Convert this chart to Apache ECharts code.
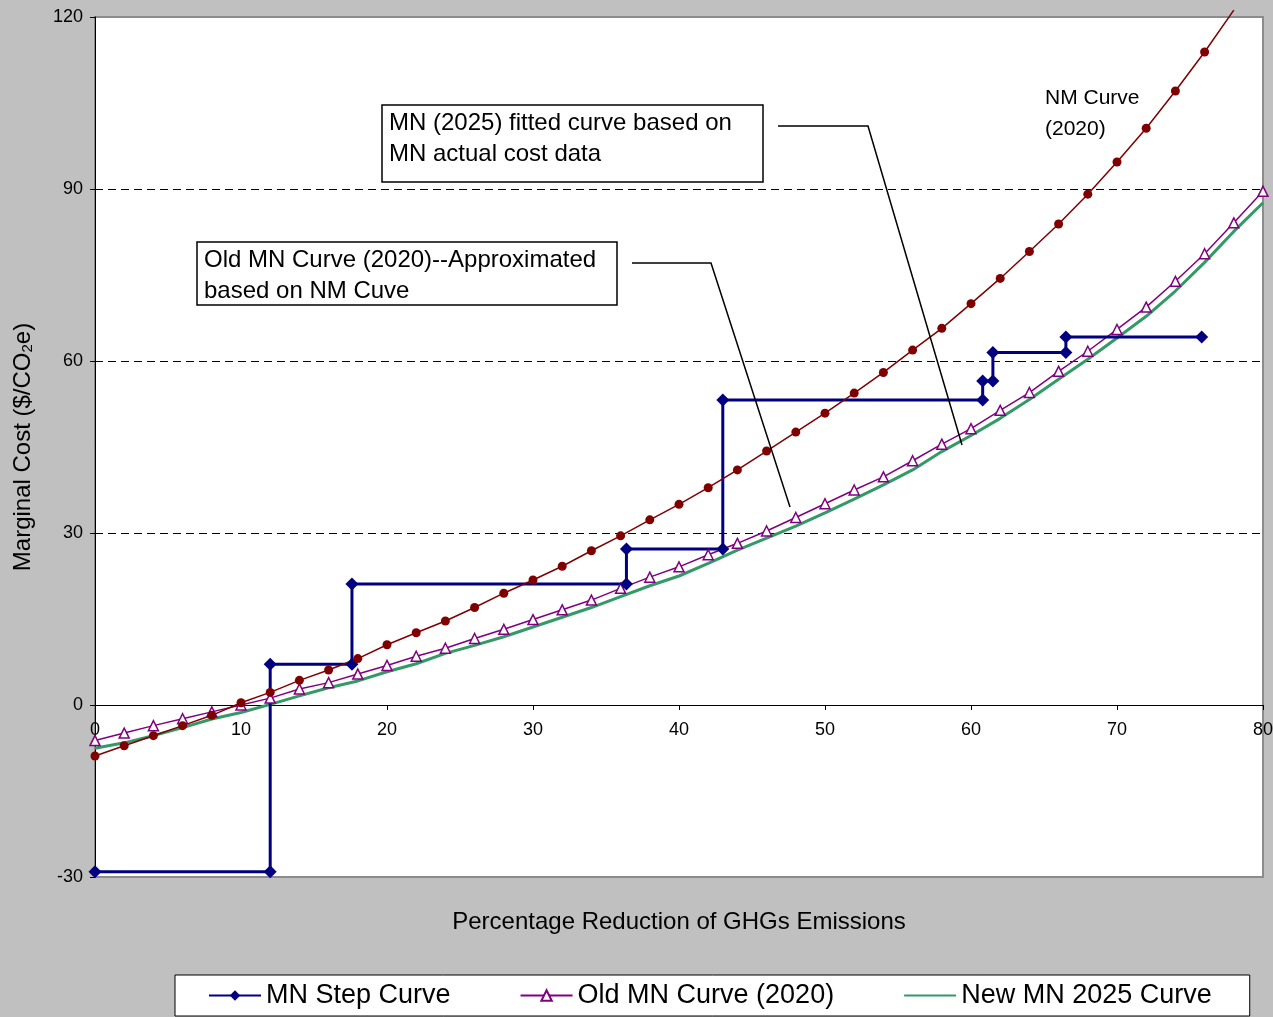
<!DOCTYPE html>
<html>
<head>
<meta charset="utf-8">
<script src="https://cdn.jsdelivr.net/npm/echarts@6/dist/echarts.min.js"></script>
<style>
html,body{margin:0;padding:0;background:#c0c0c0;}
#chart{width:1273px;height:1017px;}
</style>
</head>
<body>
<div id="chart"></div>
<script>
// ---- data ----
const pctX = [0,2,4,6,8,10,12,14,16,18,20,22,24,26,28,30,32,34,36,38,40,42,44,46,48,50,52,54,56,58,60,62,64,66,68,70,72,74,76,78,80];
// NM Curve (2020), points 0..78
const nmCurve = [-8.9,-7.1,-5.35,-3.6,-1.8,0.4,2.2,4.3,6.1,8.1,10.5,12.6,14.65,17.0,19.5,21.8,24.2,26.9,29.5,32.3,35.0,37.9,41.0,44.3,47.6,50.9,54.4,58.0,61.9,65.7,70.0,74.4,79.1,83.9,89.1,94.7,100.6,107.1,113.9,121.2];
// Old MN Curve (2020), points 0..80
const oldMN = [-6.2,-4.9,-3.6,-2.4,-1.2,0.0,1.2,2.8,3.9,5.4,6.9,8.5,9.9,11.6,13.2,14.9,16.6,18.3,20.35,22.3,24.1,26.2,28.2,30.35,32.7,35.1,37.5,39.8,42.6,45.5,48.2,51.4,54.5,58.2,61.7,65.5,69.4,73.9,78.7,84.1,89.6];
// New MN 2025 Curve, points 0..80
const newMN = [-7.55,-6.6,-5.35,-3.95,-2.45,-1.3,0.1,1.6,3.0,4.2,5.8,7.2,9.0,10.4,11.9,13.6,15.3,17.0,18.9,20.8,22.5,24.7,27.0,29.1,31.2,33.5,35.9,38.4,41.0,44.2,47.0,50.0,53.3,56.8,60.3,64.0,67.8,72.2,77.2,82.6,87.6];
// MN Step Curve
const stepX = [0,12,12,17.6,17.6,36.4,36.4,43,43,60.8,60.8,61.5,61.5,66.5,66.5,75.8];
const stepY = [-29.1,-29.1,7.1,7.1,21.1,21.1,27.2,27.2,53.2,53.2,56.5,56.5,61.5,61.5,64.2,64.2];
const yTicks = [-30,0,30,60,90,120];
const xTicks = [0,10,20,30,40,50,60,70,80];

const FONT = 'Liberation Sans, Arial, sans-serif';
const W = 1273, H = 1017;
const G = {left: 95, top: 17, right: 10, bottom: 140};
const gridH = H - G.top - G.bottom;
const yMin = yTicks[0], yMax = yTicks[yTicks.length-1];
// x axis sits on y = 0 (labels follow it)
const xAxisOffset = -((0 - yMin) / (yMax - yMin)) * gridH;

const chart = echarts.init(document.getElementById('chart'), null, {renderer:'canvas'});

const nmData = nmCurve.map((v,i) => {
  const p = [pctX[i], v];
  return v > yMax ? {value:p, symbol:'none'} : p;
});

const option = {
  animation: false,
  backgroundColor: '#c0c0c0',
  textStyle: {fontFamily: FONT},
  grid: {
    left: G.left, top: G.top, right: G.right, bottom: G.bottom,
    containLabel: false, outerBoundsMode: 'none',
    show: true, backgroundColor: '#ffffff',
    borderColor: '#8c8c8c', borderWidth: 2
  },
  legend: {
    data: ['MN Step Curve','Old MN Curve (2020)',{name:'New MN 2025 Curve', itemStyle:{opacity:0}}],
    left: 175, top: 975,
    padding: [7, 38, 7, 33],
    itemGap: 69, itemWidth: 52, itemHeight: 13,
    backgroundColor: '#ffffff', borderColor: '#000000', borderWidth: 1,
    textStyle: {fontSize: 27, color: '#000', fontFamily: FONT}
  },
  xAxis: {
    type: 'value', min: xTicks[0], max: xTicks[xTicks.length-1], interval: 10,
    position: 'bottom', offset: xAxisOffset,
    axisLine: {onZero: false, lineStyle: {color: '#000', width: 1}},
    axisTick: {show: true, inside: false, length: 5, lineStyle: {color: '#000'}},
    axisLabel: {fontSize: 18, color: '#000', margin: 16, fontFamily: FONT},
    splitLine: {show: false},
    name: 'Percentage Reduction of GHGs Emissions',
    nameLocation: 'middle', nameGap: 205,
    nameTextStyle: {fontSize: 24, color: '#000', fontFamily: FONT}
  },
  yAxis: {
    type: 'value', min: yMin, max: yMax, interval: 30,
    axisLine: {show: true, lineStyle: {color: '#000', width: 1}},
    axisTick: {show: true, length: 5, lineStyle: {color: '#000'}},
    axisLabel: {fontSize: 18, color: '#000', margin: 12, fontFamily: FONT},
    splitLine: {show: true, showMinLine: false, showMaxLine: false,
      lineStyle: {color: '#000', width: 1, type: [8, 5]}},
    name: 'Marginal Cost ($/CO{sub|2}e)',
    nameLocation: 'middle', nameGap: 60,
    nameTextStyle: {fontSize: 24, color: '#000', fontFamily: FONT,
      rich: {sub: {fontSize: 15, color: '#000', fontFamily: FONT, verticalAlign: 'bottom', padding: [8,0,0,0]}}}
  },
  series: [
    {
      name: 'New MN 2025 Curve', type: 'line',
      data: newMN.map((v,i) => [pctX[i], v]),
      symbol: 'none',
      lineStyle: {color: '#339966', width: 3},
      itemStyle: {color: '#339966'}
    },
    {
      name: 'Old MN Curve (2020)', type: 'line',
      data: oldMN.map((v,i) => [pctX[i], v]),
      symbol: 'triangle', symbolSize: 10,
      lineStyle: {color: '#800080', width: 1.5},
      itemStyle: {color: '#ffffff', borderColor: '#800080', borderWidth: 1.5}
    },
    {
      name: 'MN Step Curve', type: 'line',
      data: stepX.map((x,i) => [x, stepY[i]]),
      symbol: 'diamond', symbolSize: 13,
      lineStyle: {color: '#000080', width: 3},
      itemStyle: {color: '#000080'}
    },
    {
      name: 'NM Curve (2020)', type: 'line',
      data: nmData, clip: false,
      symbol: 'circle', symbolSize: 9,
      lineStyle: {color: '#800000', width: 1.5},
      itemStyle: {color: '#800000'}
    }
  ],
  graphic: [
    {type: 'rect', shape: {x: 382, y: 105, width: 381, height: 77},
      style: {fill: '#ffffff', stroke: '#000', lineWidth: 1.5}, z: 10},
    {type: 'text', x: 389, y: 108, z: 11,
      style: {text: 'MN (2025) fitted curve based on\nMN actual cost data', font: '24px ' + FONT,
        fill: '#000', lineHeight: 31, verticalAlign: 'top', textAlign: 'left'}},
    {type: 'polyline', shape: {points: [[778,126],[868,126],[962,445]]},
      style: {stroke: '#000', lineWidth: 1.5, fill: null}, z: 10},
    {type: 'rect', shape: {x: 197, y: 242, width: 420, height: 63},
      style: {fill: '#ffffff', stroke: '#000', lineWidth: 1.5}, z: 10},
    {type: 'text', x: 204, y: 245, z: 11,
      style: {text: 'Old MN Curve (2020)--Approximated\nbased on NM Cuve', font: '24px ' + FONT,
        fill: '#000', lineHeight: 31, verticalAlign: 'top', textAlign: 'left'}},
    {type: 'polyline', shape: {points: [[632,263],[711,263],[790,507]]},
      style: {stroke: '#000', lineWidth: 1.5, fill: null}, z: 10},
    {type: 'text', x: 1045, y: 83, z: 11,
      style: {text: 'NM Curve\n(2020)', font: '21px ' + FONT,
        fill: '#000', lineHeight: 31, verticalAlign: 'top', textAlign: 'left'}}
  ]
};
chart.setOption(option);
</script>
</body>
</html>
